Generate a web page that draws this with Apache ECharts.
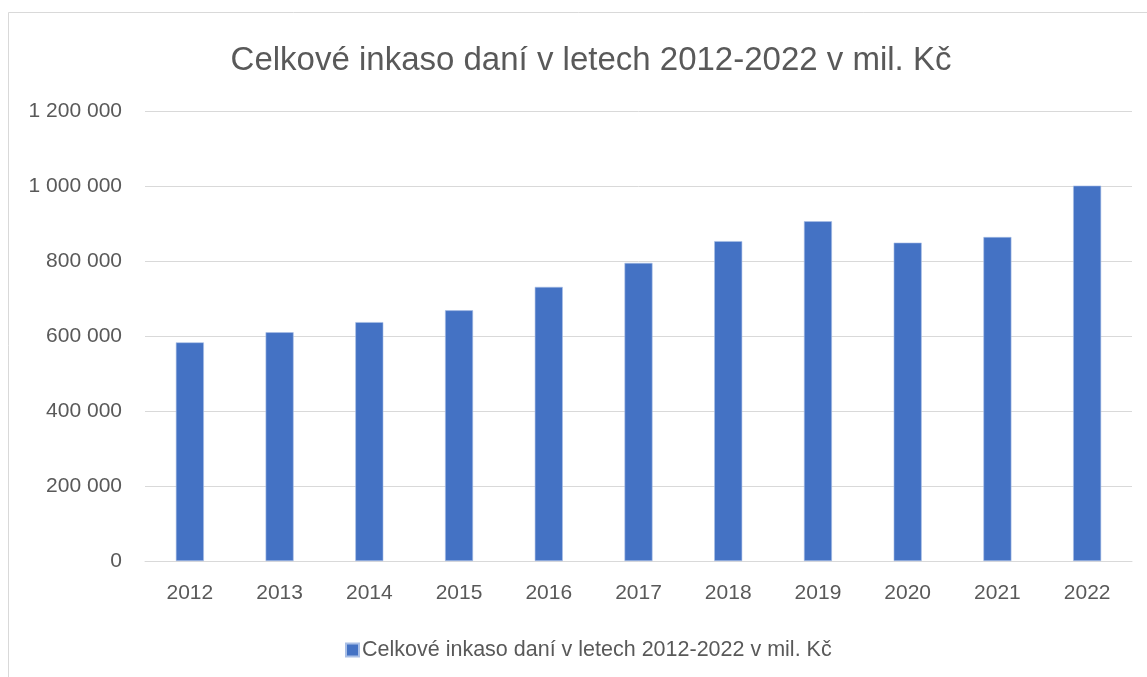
<!DOCTYPE html>
<html>
<head>
<meta charset="utf-8">
<script src="https://cdn.jsdelivr.net/npm/echarts@6/dist/echarts.min.js"></script>
<style>html,body{margin:0;padding:0;background:#fff}#c{width:1147px;height:677px}</style>
</head>
<body>
<div id="c"></div>
<script>
const titleText = 'Celkové inkaso daní v letech 2012-2022 v mil. Kč';
const seriesName = 'Celkové inkaso daní v letech 2012-2022 v mil. Kč';
const years = ['2012','2013','2014','2015','2016','2017','2018','2019','2020','2021','2022'];
const values = [583000, 610000, 637000, 668500, 731000, 795000, 853000, 906000, 849000, 864000, 1001000];
const yTicks = [0, 200000, 400000, 600000, 800000, 1000000, 1200000];

const FONT = 'Liberation Sans';
const fmt = v => String(v).replace(/\B(?=(\d{3})+(?!\d))/g, ' ');

const chart = echarts.init(document.getElementById('c'));
chart.setOption({
  backgroundColor: '#fff',
  animation: false,
  graphic: [{
    type: 'rect', z: -1,
    shape: {x: 8.5, y: 12.5, width: 1200, height: 700},
    style: {fill: 'none', stroke: '#d9d9d9', lineWidth: 1}
  }],
  title: {
    text: titleText, left: 586, top: 39, textAlign: 'center',
    textStyle: {fontFamily: FONT, fontSize: 33, fontWeight: 'normal', color: '#595959'}
  },
  legend: {
    data: [seriesName], left: 340, top: 634, itemWidth: 13, itemHeight: 13, itemGap: 6,
    icon: 'rect',
    textStyle: {fontFamily: FONT, fontSize: 21.5, color: '#595959', padding: [0,0,0,-2]}
  },
  grid: {left: 145, right: 15, top: 111, bottom: 116, containLabel: false},
  xAxis: {
    type: 'category', data: years,
    axisLine: {lineStyle: {color: '#d9d9d9', width: 1}},
    axisTick: {show: false},
    axisLabel: {fontFamily: FONT, fontSize: 21, color: '#595959', margin: 22}
  },
  yAxis: {
    type: 'value', min: 0, max: 1200000, interval: 200000,
    axisLine: {show: false}, axisTick: {show: false},
    splitLine: {lineStyle: {color: '#d9d9d9', width: 1}},
    axisLabel: {fontFamily: FONT, fontSize: 21, color: '#595959', margin: 23, formatter: v => fmt(v)}
  },
  series: [{
    name: seriesName, type: 'bar', data: values, barWidth: 28,
    itemStyle: {color: '#4472c4', borderColor: '#a9bfe6', borderWidth: 0.6}
  }]
});
</script>
</body>
</html>
